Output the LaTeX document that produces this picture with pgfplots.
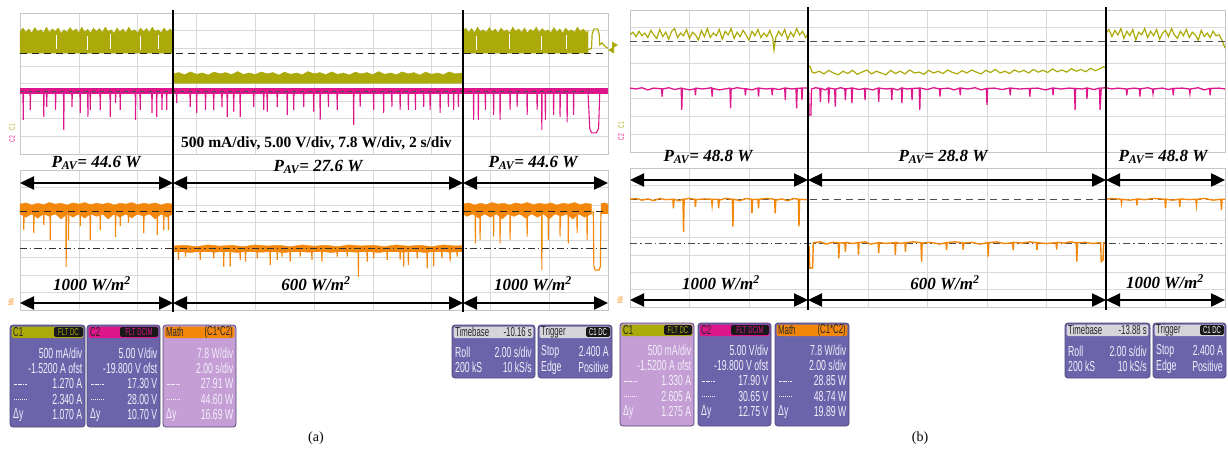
\documentclass[border=0pt]{standalone}
\usepackage{pgfplots}
\pgfplotsset{compat=1.18}
\usepackage{fontspec}
\setmainfont{Liberation Serif}
\newfontfamily\bxf[FakeStretch=0.6]{Liberation Sans}
\usetikzlibrary{arrows.meta}
\definecolor{cyel}{RGB}{172,170,10}
\definecolor{cmag}{RGB}{222,22,140}
\definecolor{corg}{RGB}{242,135,12}
\definecolor{bpur}{RGB}{108,100,170}
\definecolor{blil}{RGB}{196,158,212}
\definecolor{bgry}{RGB}{214,214,218}
\definecolor{btxt}{RGB}{242,238,250}
\definecolor{bedge}{RGB}{80,72,120}

\pgfplotsset{osc/.style={scale only axis, anchor=north west,
  xmin=0,xmax=10,ymin=0,ymax=8,
  xtick={0,1,...,10}, ytick={0,1,...,8},
  xticklabels={}, yticklabels={},
  major tick length=0pt, tick style={draw=none},
  grid=major, major grid style={draw=gray!30, line width=0.6pt},
  axis line style={draw=gray!45, line width=0.7pt}}}

\newcommand{\pav}[1]{{\fontsize{17}{20}\selectfont\bfseries\itshape P\textsubscript{AV}= #1 W}}
\newcommand{\irr}[1]{{\fontsize{17}{20}\selectfont\bfseries\itshape #1 W/m\textsuperscript{2}}}
\newcommand{\rwf}{\bxf\fontsize{14.5}{14.5}\selectfont}
\newcommand{\hdf}{\bxf\fontsize{13}{13}\selectfont}
\newcommand{\bdf}{\bxf\fontsize{10}{10}\selectfont}
\tikzset{dar/.style={line width=2.4pt, {Triangle[length=14pt,width=13pt]}-{Triangle[length=14pt,width=13pt]}},
  rt/.style={anchor=east, inner sep=0pt, font=\rwf, text=btxt},
  lt/.style={anchor=west, inner sep=0pt, font=\rwf, text=btxt}}

\newcommand{\hdrbox}[7]{%
  \filldraw[fill=#5, draw=bedge, line width=0.8pt, rounded corners=3pt] (#1,#3) rectangle (#2,#4);
  \fill[#6, rounded corners=2pt] ({#1+1.6},{#3+1.6}) rectangle ({#2-1.6},{#3+13});
  \node[anchor=west, inner sep=0pt, font=\hdf, text=black!85] at ({#1+3},{#3+7.3}) {#7};}
\newcommand{\badge}[5]{%
  \fill[black!90, rounded corners=1.5pt] (#1,{#3-4.8}) rectangle (#2,{#3+4.8});
  \node[inner sep=0pt, font=\bdf, text=#5] at ({(#1+#2)/2},#3) {#4};}
\newcommand{\fiverows}[8]{%
  \node[rt] at ({#2-2.5},#3) {#4};
  \node[rt] at ({#2-2.5},{#3+15.5}) {#5};
  \node[rt] at ({#2-2.5},{#3+31}) {#6};
  \node[rt] at ({#2-2.5},{#3+46.5}) {#7};
  \node[rt] at ({#2-2.5},{#3+62}) {#8};
  \draw[btxt, line width=0.9pt, dash pattern=on 2.5pt off 1pt on 0.8pt off 1pt] ({#1+4},{#3+31}) -- ({#1+17},{#3+31});
  \draw[btxt, line width=0.9pt, dash pattern=on 0.9pt off 1.1pt] ({#1+4},{#3+46.5}) -- ({#1+17},{#3+46.5});
  \node[lt] at ({#1+3},{#3+62}) {Δy};}

\begin{document}
\begin{tikzpicture}
\useasboundingbox (0,0) rectangle (1228pt,-463pt);

% ================= (a) upper =================
\begin{axis}[osc, at={(20pt,-13pt)}, width=588pt, height=141pt]
\addplot[fill=cyel, draw=cyel, line width=0.4pt] coordinates {(0,6.95) (0.05,7.15) (0.1,6.9) (0.15,7.1) (0.2,6.85) (0.25,7.18) (0.3,6.95) (0.35,7.05) (0.4,6.88) (0.45,7.2) (0.5,6.9) (0.55,7.1) (0.6,6.95) (0.65,7.15) (0.7,6.85) (0.75,7.05) (0.8,6.9) (0.85,7.18) (0.9,6.95) (0.95,7.1) (1.0,6.88) (1.05,7.2) (1.1,6.92) (1.15,7.08) (1.2,6.86) (1.25,7.15) (1.3,6.95) (1.35,7.12) (1.4,6.9) (1.45,7.2) (1.5,6.95) (1.55,7.05) (1.6,6.85) (1.65,7.15) (1.7,6.92) (1.75,7.1) (1.8,6.88) (1.85,7.2) (1.9,6.95) (1.95,7.05) (2.0,6.86) (2.05,7.15) (2.1,6.95) (2.15,7.12) (2.2,6.9) (2.25,7.2) (2.3,6.95) (2.35,7.05) (2.4,6.88) (2.45,7.15) (2.5,6.92) (2.55,7.1) (2.6,6.95) (2.6,5.72) (0,5.72)};
\addplot[fill=cyel, draw=cyel, line width=0.4pt] coordinates {(2.6,4.55) (2.7,4.62) (2.8,4.5) (2.9,4.66) (3.0,4.52) (3.1,4.6) (3.2,4.48) (3.3,4.65) (3.4,4.55) (3.5,4.62) (3.6,4.5) (3.7,4.68) (3.8,4.52) (3.9,4.6) (4.0,4.5) (4.1,4.66) (4.2,4.55) (4.3,4.62) (4.4,4.48) (4.5,4.65) (4.6,4.52) (4.7,4.6) (4.8,4.5) (4.9,4.68) (5.0,4.55) (5.1,4.62) (5.2,4.5) (5.3,4.66) (5.4,4.52) (5.5,4.6) (5.6,4.48) (5.7,4.65) (5.8,4.55) (5.9,4.62) (6.0,4.5) (6.1,4.68) (6.2,4.52) (6.3,4.6) (6.4,4.5) (6.5,4.66) (6.6,4.55) (6.7,4.62) (6.8,4.48) (6.9,4.65) (7.0,4.52) (7.1,4.6) (7.2,4.5) (7.3,4.66) (7.4,4.55) (7.53,4.6) (7.53,4.0) (2.6,4.0)};
\addplot[fill=cyel, draw=cyel, line width=0.4pt] coordinates {(7.53,6.95) (7.58,7.15) (7.63,6.9) (7.68,7.12) (7.73,6.88) (7.78,7.2) (7.83,6.95) (7.88,7.05) (7.93,6.9) (7.98,7.18) (8.03,6.92) (8.08,7.1) (8.13,6.86) (8.18,7.15) (8.23,6.95) (8.28,7.05) (8.33,6.88) (8.38,7.2) (8.43,6.95) (8.48,7.1) (8.53,6.9) (8.58,7.15) (8.63,6.86) (8.68,7.08) (8.73,6.95) (8.78,7.2) (8.83,6.9) (8.88,7.12) (8.93,6.95) (8.98,7.05) (9.03,6.88) (9.08,7.18) (9.13,6.92) (9.18,7.1) (9.23,6.86) (9.28,7.15) (9.33,6.95) (9.38,7.05) (9.43,6.9) (9.48,7.2) (9.53,6.95) (9.58,7.1) (9.63,6.9) (9.66,7.0) (9.66,5.72) (7.53,5.72)};
\addplot[white, line width=0.8pt, unbounded coords=jump] coordinates {(0.62,5.95) (0.62,6.75) (0.62,nan) (1.14,5.9) (1.14,6.7) (1.14,nan) (1.53,5.95) (1.53,6.8) (1.53,nan) (2.04,5.9) (2.04,6.7) (2.04,nan) (2.35,5.95) (2.35,6.75) (2.35,nan) (7.77,5.9) (7.77,6.7) (7.77,nan) (8.33,5.95) (8.33,6.8) (8.33,nan) (8.86,5.9) (8.86,6.7) (8.86,nan) (9.3,5.95) (9.3,6.75)};
\addplot[cyel, line width=1.2pt] coordinates {(9.66,5.9) (9.72,6.0) (9.73,6.8) (9.76,7.1) (9.82,7.1) (9.85,6.8) (9.86,6.2) (9.9,6.3) (9.95,6.1) (10,6.0)};
\addplot[cmag, line width=6pt] coordinates {(0,3.58) (10,3.58)};
\addplot[cmag, line width=1.1pt] coordinates {(0,3.5) (0.05,3.5) (0.055,1.93) (0.06,3.5) (0.17,3.5) (0.175,2.5) (0.18,3.5) (0.40,3.5) (0.405,2.1) (0.41,3.5) (0.45,3.5) (0.455,2.67) (0.46,3.5) (0.60,3.5) (0.605,2.5) (0.61,3.5) (0.74,3.5) (0.745,1.36) (0.75,3.5) (0.88,3.5) (0.885,2.67) (0.89,3.5) (1.02,3.5) (1.025,2.33) (1.03,3.5) (1.15,3.5) (1.155,2.1) (1.16,3.5) (1.19,3.5) (1.195,2.5) (1.2,3.5) (1.36,3.5) (1.365,2.5) (1.37,3.5) (1.53,3.5) (1.535,2.1) (1.54,3.5) (1.62,3.5) (1.625,2.9) (1.63,3.5) (1.70,3.5) (1.705,2.5) (1.71,3.5) (1.96,3.5) (1.965,1.93) (1.97,3.5) (2.04,3.5) (2.045,2.5) (2.05,3.5) (2.24,3.5) (2.245,2.33) (2.25,3.5) (2.32,3.5) (2.325,2.1) (2.33,3.5) (2.41,3.5) (2.415,2.5) (2.42,3.5) (2.49,3.5) (2.495,2.5) (2.5,3.5) (2.66,3.5) (2.665,2.9) (2.67,3.5) (2.89,3.5) (2.895,2.67) (2.9,3.5) (3.0,3.5) (3.005,2.33) (3.01,3.5) (3.15,3.5) (3.155,2.5) (3.16,3.5) (3.29,3.5) (3.295,2.5) (3.3,3.5) (3.43,3.5) (3.435,2.67) (3.44,3.5) (3.52,3.5) (3.525,2.1) (3.53,3.5) (3.63,3.5) (3.635,2.4) (3.64,3.5) (3.74,3.5) (3.745,2.1) (3.75,3.5) (3.97,3.5) (3.975,2.67) (3.98,3.5) (4.14,3.5) (4.145,2.5) (4.15,3.5) (4.2,3.5) (4.205,2.4) (4.21,3.5) (4.37,3.5) (4.375,2.67) (4.38,3.5) (4.54,3.5) (4.545,2.2) (4.55,3.5) (4.65,3.5) (4.655,2.5) (4.66,3.5) (4.82,3.5) (4.825,2.67) (4.83,3.5) (4.99,3.5) (4.995,2.4) (5.0,3.5) (5.1,3.5) (5.105,1.93) (5.11,3.5) (5.24,3.5) (5.245,2.67) (5.25,3.5) (5.39,3.5) (5.395,2.5) (5.4,3.5) (5.67,3.5) (5.675,1.65) (5.68,3.5) (5.78,3.5) (5.785,2.67) (5.79,3.5) (6.01,3.5) (6.015,2.5) (6.02,3.5) (6.18,3.5) (6.185,2.33) (6.19,3.5) (6.32,3.5) (6.325,2.67) (6.33,3.5) (6.46,3.5) (6.465,2.5) (6.47,3.5) (6.6,3.5) (6.605,2.5) (6.61,3.5) (6.72,3.5) (6.725,2.5) (6.73,3.5) (6.86,3.5) (6.865,2.67) (6.87,3.5) (6.97,3.5) (6.975,2.5) (6.98,3.5) (7.14,3.5) (7.145,2.33) (7.15,3.5) (7.28,3.5) (7.285,2.67) (7.29,3.5) (7.37,3.5) (7.375,2.5) (7.38,3.5) (7.45,3.5) (7.455,2.67) (7.46,3.5) (7.71,3.5) (7.715,1.93) (7.72,3.5) (7.79,3.5) (7.795,1.93) (7.8,3.5) (7.91,3.5) (7.915,2.5) (7.92,3.5) (8.05,3.5) (8.055,2.2) (8.06,3.5) (8.16,3.5) (8.165,1.93) (8.17,3.5) (8.33,3.5) (8.335,2.5) (8.34,3.5) (8.45,3.5) (8.455,2.67) (8.46,3.5) (8.62,3.5) (8.625,2.2) (8.63,3.5) (8.79,3.5) (8.795,2.5) (8.8,3.5) (8.87,3.5) (8.875,1.36) (8.88,3.5) (8.93,3.5) (8.935,1.93) (8.94,3.5) (9.07,3.5) (9.075,2.2) (9.08,3.5) (9.18,3.5) (9.185,2.1) (9.19,3.5) (9.3,3.5) (9.305,1.8) (9.31,3.5) (9.41,3.5) (9.415,2.2) (9.42,3.5) (9.66,3.5) (9.69,1.45) (9.72,1.2) (9.8,1.2) (9.84,1.45) (9.86,3.5) (10,3.5)};
\addplot[black!85, line width=1.1pt, dash pattern=on 7pt off 5pt] coordinates {(0,5.68) (10,5.68)};
\addplot[black!70, line width=0.7pt, dash pattern=on 4pt off 4pt] coordinates {(0,3.58) (9.7,3.58)};
\end{axis}

% ================= (a) lower =================
\begin{axis}[osc, at={(20pt,-170pt)}, width=588pt, height=140pt]
\addplot[fill=corg, draw=corg, line width=0.4pt] coordinates {(0,6.05) (0.1,6.12) (0.2,6.0) (0.3,6.1) (0.4,6.02) (0.5,6.14) (0.6,6.05) (0.7,6.1) (0.8,6.0) (0.9,6.12) (1.0,6.05) (1.1,6.14) (1.2,6.02) (1.3,6.1) (1.4,6.04) (1.5,6.12) (1.6,6.0) (1.7,6.1) (1.8,6.05) (1.9,6.14) (2.0,6.02) (2.1,6.1) (2.2,6.05) (2.3,6.12) (2.4,6.0) (2.5,6.1) (2.6,6.05) (2.6,5.5) (2.5,5.3) (2.4,5.5) (2.3,5.2) (2.2,5.5) (2.1,5.35) (2.0,5.5) (1.9,5.25) (1.8,5.5) (1.7,5.3) (1.6,5.5) (1.5,5.2) (1.4,5.5) (1.3,5.35) (1.2,5.5) (1.1,5.25) (1.0,5.5) (0.9,5.3) (0.8,5.5) (0.7,5.2) (0.6,5.5) (0.5,5.35) (0.4,5.5) (0.3,5.25) (0.2,5.5) (0.1,5.3) (0,5.5)};
\addplot[fill=corg, draw=corg, line width=0.4pt] coordinates {(2.6,3.66) (2.8,3.7) (3.0,3.62) (3.2,3.72) (3.4,3.65) (3.6,3.7) (3.8,3.62) (4.0,3.72) (4.2,3.66) (4.4,3.7) (4.6,3.62) (4.8,3.72) (5.0,3.65) (5.2,3.7) (5.4,3.62) (5.6,3.72) (5.8,3.66) (6.0,3.7) (6.2,3.62) (6.4,3.72) (6.6,3.65) (6.8,3.7) (7.0,3.62) (7.2,3.72) (7.4,3.66) (7.53,3.68) (7.53,3.35) (7.3,3.3) (7.1,3.38) (6.9,3.28) (6.7,3.36) (6.5,3.3) (6.3,3.38) (6.1,3.28) (5.9,3.35) (5.7,3.3) (5.5,3.38) (5.3,3.28) (5.1,3.36) (4.9,3.3) (4.7,3.38) (4.5,3.28) (4.3,3.35) (4.1,3.3) (3.9,3.38) (3.7,3.28) (3.5,3.36) (3.3,3.3) (3.1,3.38) (2.9,3.28) (2.7,3.35) (2.6,3.32)};
\addplot[fill=corg, draw=corg, line width=0.4pt] coordinates {(7.53,6.05) (7.63,6.12) (7.73,6.0) (7.83,6.1) (7.93,6.02) (8.03,6.14) (8.13,6.05) (8.23,6.1) (8.33,6.0) (8.43,6.12) (8.53,6.05) (8.63,6.14) (8.73,6.02) (8.83,6.1) (8.93,6.04) (9.03,6.12) (9.13,6.0) (9.23,6.1) (9.33,6.05) (9.43,6.14) (9.53,6.02) (9.63,6.1) (9.72,6.05) (9.72,5.5) (9.6,5.3) (9.5,5.5) (9.4,5.2) (9.3,5.5) (9.2,5.35) (9.1,5.5) (9.0,5.2) (8.9,5.5) (8.8,5.3) (8.7,5.5) (8.6,5.25) (8.5,5.5) (8.4,5.35) (8.3,5.5) (8.2,5.2) (8.1,5.5) (8.0,5.3) (7.9,5.5) (7.8,5.25) (7.7,5.5) (7.6,5.35) (7.53,5.5)};
\addplot[fill=corg, draw=corg, line width=0.4pt] coordinates {(9.88,6.08) (9.94,6.12) (10,6.05) (10,5.5) (9.88,5.5)};
\addplot[corg, line width=1.2pt] coordinates {(9.72,5.6) (9.75,5.6) (9.76,2.5) (9.78,2.29) (9.85,2.29) (9.87,2.5) (9.88,5.6)};
\addplot[corg, line width=1.1pt] coordinates {(0,5.5) (0.06,5.5) (0.065,4.57) (0.07,5.5) (0.23,5.5) (0.235,4.4) (0.24,5.5) (0.40,5.5) (0.405,4.86) (0.41,5.5) (0.51,5.5) (0.515,4.0) (0.52,5.5) (0.78,5.5) (0.785,2.46) (0.79,5.5) (0.82,5.5) (0.825,4.0) (0.83,5.5) (1.02,5.5) (1.025,4.8) (1.03,5.5) (1.19,5.5) (1.195,4.0) (1.2,5.5) (1.36,5.5) (1.365,4.57) (1.37,5.5) (1.62,5.5) (1.625,4.17) (1.63,5.5) (1.70,5.5) (1.705,4.8) (1.71,5.5) (1.84,5.5) (1.845,5.0) (1.85,5.5) (2.1,5.5) (2.105,4.4) (2.11,5.5) (2.33,5.5) (2.335,4.3) (2.34,5.5) (2.44,5.5) (2.445,4.57) (2.45,5.5) (2.52,5.5) (2.525,4.57) (2.53,5.5) (2.6,5.5) (2.6,3.35) (2.69,3.35) (2.695,2.86) (2.7,3.35) (2.81,3.35) (2.815,3.05) (2.82,3.35) (3.06,3.35) (3.065,2.86) (3.07,3.35) (3.29,3.35) (3.295,2.95) (3.3,3.35) (3.46,3.35) (3.465,2.48) (3.47,3.35) (3.57,3.35) (3.575,2.48) (3.58,3.35) (3.74,3.35) (3.745,2.86) (3.75,3.35) (3.83,3.35) (3.835,2.76) (3.84,3.35) (4.03,3.35) (4.035,2.95) (4.04,3.35) (4.25,3.35) (4.255,2.57) (4.26,3.35) (4.37,3.35) (4.375,2.86) (4.38,3.35) (4.45,3.35) (4.455,3.05) (4.46,3.35) (4.59,3.35) (4.595,2.76) (4.6,3.35) (4.76,3.35) (4.765,3.05) (4.77,3.35) (4.96,3.35) (4.965,2.86) (4.97,3.35) (5.13,3.35) (5.135,2.76) (5.14,3.35) (5.39,3.35) (5.395,3.05) (5.4,3.35) (5.56,3.35) (5.565,3.05) (5.57,3.35) (5.75,3.35) (5.755,1.9) (5.76,3.35) (5.9,3.35) (5.905,2.76) (5.91,3.35) (6.01,3.35) (6.015,2.95) (6.02,3.35) (6.24,3.35) (6.245,2.86) (6.25,3.35) (6.46,3.35) (6.465,2.86) (6.47,3.35) (6.52,3.35) (6.525,2.48) (6.53,3.35) (6.6,3.35) (6.605,2.57) (6.61,3.35) (6.75,3.35) (6.755,2.95) (6.76,3.35) (6.92,3.35) (6.925,2.38) (6.93,3.35) (7.03,3.35) (7.035,2.48) (7.04,3.35) (7.17,3.35) (7.175,2.95) (7.18,3.35) (7.31,3.35) (7.315,2.76) (7.32,3.35) (7.43,3.35) (7.435,3.05) (7.44,3.35) (7.53,3.35) (7.53,5.5) (7.74,5.5) (7.745,3.81) (7.75,5.5) (7.82,5.5) (7.825,4.0) (7.83,5.5) (8.05,5.5) (8.055,4.19) (8.06,5.5) (8.16,5.5) (8.165,3.81) (8.17,5.5) (8.33,5.5) (8.335,4.0) (8.34,5.5) (8.62,5.5) (8.625,4.19) (8.63,5.5) (8.87,5.5) (8.875,2.29) (8.88,5.5) (8.98,5.5) (8.985,4.0) (8.99,5.5) (9.18,5.5) (9.185,4.19) (9.19,5.5) (9.32,5.5) (9.325,3.81) (9.33,5.5) (9.47,5.5) (9.475,4.4) (9.48,5.5) (9.64,5.5) (9.645,4.0) (9.65,5.5) (9.72,5.5)};
\addplot[black!85, line width=1.1pt, dash pattern=on 7pt off 5pt] coordinates {(0,5.63) (10,5.63)};
\addplot[black!80, line width=0.9pt, dash pattern=on 7pt off 3pt on 1.5pt off 3pt] coordinates {(0,3.49) (10,3.49)};
\end{axis}

% ================= (b) upper =================
\begin{axis}[osc, at={(630pt,-10pt)}, width=595pt, height=142pt]
\addplot[cyel, line width=1.2pt] coordinates {(0,6.6) (0.05,6.75) (0.1,6.5) (0.15,6.8) (0.2,6.55) (0.25,6.7) (0.3,6.45) (0.35,6.85) (0.4,6.6) (0.45,6.4) (0.5,6.9) (0.55,6.5) (0.6,6.75) (0.65,6.35) (0.7,6.8) (0.75,6.95) (0.8,6.45) (0.85,6.7) (0.9,6.55) (0.95,6.9) (1.0,6.4) (1.05,6.75) (1.1,6.6) (1.15,6.3) (1.2,6.85) (1.25,6.5) (1.3,6.95) (1.35,6.45) (1.4,6.7) (1.45,6.55) (1.5,6.9) (1.55,6.35) (1.6,6.8) (1.65,6.6) (1.7,6.95) (1.75,6.4) (1.8,6.75) (1.85,6.5) (1.9,6.85) (1.95,6.6) (2.0,6.3) (2.05,6.8) (2.1,6.55) (2.15,6.9) (2.2,6.45) (2.25,6.7) (2.3,6.5) (2.35,6.85) (2.4,6.4) (2.42,5.75) (2.45,6.45) (2.5,6.8) (2.55,6.55) (2.6,6.9) (2.65,6.35) (2.7,6.75) (2.75,6.5) (2.8,6.95) (2.85,6.6) (2.9,6.8) (2.95,6.45) (3.0,6.7)};
\addplot[cyel, line width=1.2pt] coordinates {(3.0,4.85) (3.03,4.8) (3.06,4.5) (3.1,4.45) (3.18,4.55) (3.26,4.4) (3.34,4.6) (3.42,4.45) (3.5,4.35) (3.58,4.55) (3.66,4.42) (3.74,4.6) (3.82,4.38) (3.9,4.5) (3.98,4.62) (4.06,4.4) (4.14,4.55) (4.22,4.45) (4.3,4.35) (4.38,4.6) (4.46,4.42) (4.54,4.55) (4.62,4.4) (4.7,4.62) (4.78,4.45) (4.86,4.5) (4.94,4.38) (5.02,4.6) (5.1,4.45) (5.18,4.55) (5.26,4.42) (5.34,4.62) (5.42,4.48) (5.5,4.4) (5.58,4.58) (5.66,4.45) (5.74,4.62) (5.82,4.5) (5.9,4.4) (5.98,4.6) (6.06,4.48) (6.14,4.65) (6.22,4.45) (6.3,4.55) (6.38,4.42) (6.46,4.62) (6.54,4.5) (6.62,4.6) (6.7,4.45) (6.78,4.65) (6.86,4.5) (6.94,4.6) (7.02,4.48) (7.1,4.68) (7.18,4.52) (7.26,4.62) (7.34,4.5) (7.42,4.7) (7.5,4.55) (7.58,4.65) (7.66,4.52) (7.74,4.72) (7.82,4.58) (7.9,4.7) (7.96,4.8) (8.0,4.75)};
\addplot[cyel, line width=1.2pt] coordinates {(8.0,6.7) (8.05,6.9) (8.1,6.5) (8.15,6.85) (8.2,6.6) (8.25,6.95) (8.3,6.4) (8.35,6.8) (8.4,6.55) (8.45,6.9) (8.5,6.3) (8.55,6.75) (8.6,6.6) (8.65,6.95) (8.7,6.45) (8.75,6.8) (8.8,6.55) (8.85,6.9) (8.9,6.35) (8.95,6.7) (9.0,6.85) (9.05,6.5) (9.1,6.95) (9.15,6.6) (9.2,6.4) (9.25,6.8) (9.3,6.55) (9.35,6.9) (9.4,6.45) (9.45,6.75) (9.5,6.6) (9.55,6.3) (9.6,6.85) (9.65,6.5) (9.7,6.7) (9.75,6.45) (9.8,6.8) (9.85,6.55) (9.9,6.6) (9.95,6.3) (10,5.85)};
\addplot[cmag, line width=1.3pt] coordinates {(0,3.6) (0.1,3.55) (0.2,3.62) (0.3,3.5) (0.4,3.6) (0.53,3.56) (0.54,3.12) (0.55,3.55) (0.65,3.62) (0.75,3.52) (0.86,3.6) (0.87,2.37) (0.88,3.58) (1.0,3.5) (1.09,3.56) (1.1,3.2) (1.11,3.6) (1.22,3.55) (1.37,3.62) (1.38,3.12) (1.39,3.58) (1.5,3.5) (1.68,3.6) (1.69,2.46) (1.7,3.55) (1.8,3.62) (1.93,3.56) (1.94,3.2) (1.95,3.56) (2.05,3.5) (2.15,3.6) (2.16,3.12) (2.17,3.6) (2.28,3.55) (2.38,3.58) (2.39,3.2) (2.4,3.58) (2.5,3.52) (2.6,3.6) (2.61,2.93) (2.62,3.6) (2.72,3.55) (2.79,3.58) (2.8,2.46) (2.81,3.58) (2.88,3.6) (2.89,2.93) (2.9,3.6) (3.0,3.6) (3.01,2.08) (3.04,2.08) (3.05,3.55) (3.12,3.62) (3.19,3.58) (3.2,2.83) (3.21,3.58) (3.28,3.5) (3.33,3.6) (3.34,2.75) (3.35,3.6) (3.44,3.55) (3.45,2.56) (3.46,3.55) (3.54,3.62) (3.61,3.56) (3.62,2.93) (3.63,3.56) (3.72,3.6) (3.73,2.75) (3.74,3.6) (3.85,3.52) (3.94,3.58) (3.95,2.93) (3.96,3.58) (4.08,3.5) (4.17,3.6) (4.18,2.83) (4.19,3.6) (4.3,3.55) (4.39,3.58) (4.4,2.93) (4.41,3.58) (4.5,3.5) (4.56,3.6) (4.57,2.75) (4.58,3.6) (4.66,3.55) (4.73,3.58) (4.74,2.93) (4.75,3.58) (4.86,3.6) (4.87,2.37) (4.88,3.6) (5.0,3.52) (5.1,3.62) (5.2,3.56) (5.21,3.12) (5.22,3.56) (5.35,3.6) (5.45,3.5) (5.54,3.6) (5.55,3.2) (5.56,3.6) (5.68,3.55) (5.8,3.62) (5.9,3.5) (5.99,3.58) (6.0,2.65) (6.01,3.58) (6.12,3.6) (6.25,3.52) (6.38,3.6) (6.39,3.2) (6.4,3.6) (6.55,3.55) (6.71,3.58) (6.72,3.12) (6.73,3.58) (6.85,3.6) (6.98,3.5) (7.1,3.6) (7.11,3.2) (7.12,3.6) (7.25,3.55) (7.38,3.6) (7.47,3.58) (7.48,2.37) (7.49,3.58) (7.6,3.55) (7.67,3.6) (7.68,3.0) (7.69,3.6) (7.8,3.52) (7.89,3.6) (7.9,2.37) (7.92,3.6) (8.0,3.62) (8.1,3.55) (8.2,3.6) (8.34,3.55) (8.35,3.2) (8.36,3.55) (8.47,3.6) (8.56,3.56) (8.57,3.12) (8.58,3.56) (8.7,3.62) (8.78,3.55) (8.79,3.3) (8.8,3.55) (8.95,3.6) (9.05,3.52) (9.12,3.58) (9.13,3.2) (9.14,3.58) (9.28,3.6) (9.4,3.55) (9.41,3.3) (9.42,3.55) (9.55,3.62) (9.65,3.5) (9.74,3.58) (9.75,3.2) (9.76,3.58) (9.9,3.6) (10,3.55)};
\addplot[black!70, line width=1pt, dash pattern=on 7pt off 5pt] coordinates {(0,6.2) (10,6.2)};
\end{axis}

% ================= (b) lower =================
\begin{axis}[osc, at={(630pt,-168pt)}, width=595pt, height=139pt]
\addplot[black!70, line width=1pt, dash pattern=on 7pt off 5pt] coordinates {(0,6.2) (10,6.2)};
\addplot[black!70, line width=0.9pt, dash pattern=on 7pt off 3pt on 1.5pt off 3pt] coordinates {(0,3.63) (10,3.63)};
\addplot[corg, line width=1.4pt] coordinates {(0,6.2) (0.1,6.25) (0.2,6.15) (0.3,6.22) (0.4,6.12) (0.5,6.25) (0.6,6.18) (0.72,6.2) (0.73,5.68) (0.74,6.2) (0.82,6.12) (0.89,6.2) (0.9,4.33) (0.91,6.2) (1.0,6.25) (1.09,6.2) (1.1,5.77) (1.11,6.18) (1.25,6.22) (1.37,6.2) (1.38,5.86) (1.39,6.2) (1.48,6.2) (1.49,5.68) (1.5,6.15) (1.6,6.25) (1.72,6.2) (1.73,4.62) (1.74,6.2) (1.85,6.12) (1.95,6.25) (2.04,6.2) (2.05,5.39) (2.06,6.18) (2.15,6.2) (2.16,5.68) (2.17,6.2) (2.3,6.25) (2.43,6.2) (2.44,5.39) (2.45,6.15) (2.55,6.22) (2.65,6.12) (2.75,6.25) (2.83,6.2) (2.84,4.62) (2.85,6.2) (2.95,6.18) (3.0,6.2)};
\addplot[corg, line width=1.4pt] coordinates {(3.01,3.5) (3.02,2.23) (3.07,2.25) (3.08,3.7) (3.2,3.75) (3.3,3.62) (3.4,3.72) (3.5,3.7) (3.51,2.8) (3.52,3.68) (3.61,3.7) (3.62,3.18) (3.63,3.72) (3.74,3.65) (3.83,3.7) (3.84,3.0) (3.85,3.7) (3.95,3.75) (4.05,3.62) (4.17,3.7) (4.18,3.09) (4.19,3.7) (4.3,3.66) (4.45,3.7) (4.46,3.0) (4.47,3.72) (4.55,3.65) (4.62,3.7) (4.63,3.18) (4.64,3.7) (4.75,3.75) (4.89,3.7) (4.9,2.61) (4.91,3.68) (5.05,3.72) (5.2,3.62) (5.31,3.7) (5.32,3.28) (5.33,3.7) (5.45,3.75) (5.59,3.7) (5.6,3.3) (5.61,3.68) (5.75,3.72) (5.88,3.62) (6.01,3.7) (6.02,2.9) (6.03,3.7) (6.15,3.75) (6.3,3.65) (6.43,3.7) (6.44,3.28) (6.45,3.72) (6.6,3.68) (6.72,3.75) (6.83,3.7) (6.84,3.28) (6.85,3.7) (7.0,3.65) (7.16,3.7) (7.17,3.3) (7.18,3.72) (7.3,3.68) (7.4,3.75) (7.5,3.7) (7.51,2.61) (7.52,3.7) (7.65,3.72) (7.78,3.65) (7.88,3.7) (7.91,3.7) (7.92,2.61) (7.95,2.7) (7.96,3.7) (8.0,3.72)};
\addplot[corg, line width=1.4pt] coordinates {(8.0,6.2) (8.1,6.25) (8.25,6.2) (8.26,5.97) (8.27,6.2) (8.4,6.15) (8.51,6.2) (8.52,5.86) (8.53,6.22) (8.65,6.18) (8.8,6.25) (8.99,6.2) (9.0,5.68) (9.01,6.2) (9.12,6.15) (9.23,6.2) (9.24,5.77) (9.25,6.22) (9.4,6.18) (9.51,6.2) (9.52,5.86) (9.53,6.2) (9.65,6.25) (9.8,6.15) (9.93,6.2) (9.94,5.58) (9.95,6.2) (10,6.2)};
\end{axis}

% ================= overlay =================
\begin{scope}[x=1pt,y=-1pt]
\draw[black, line width=2pt] (173,10) -- (173,312);
\draw[black, line width=2pt] (463,10) -- (463,312);
\draw[black, line width=2pt] (808,7) -- (808,310);
\draw[black, line width=2pt] (1106,7) -- (1106,310);
\draw[dar] (20,183) -- (173,183);
\draw[dar] (173,183) -- (463,183);
\draw[dar] (463,183) -- (608,183);
\draw[dar] (20,303) -- (173,303);
\draw[dar] (173,303) -- (463,303);
\draw[dar] (463,303) -- (608,303);
\draw[dar] (630,180) -- (808,180);
\draw[dar] (808,180) -- (1106,180);
\draw[dar] (1106,180) -- (1225,180);
\draw[dar] (630,300) -- (808,300);
\draw[dar] (808,300) -- (1106,300);
\draw[dar] (1106,300) -- (1225,300);
\node at (96,163) {\pav{44.6}};
\node at (318,167) {\pav{27.6}};
\node at (533,163) {\pav{44.6}};
\node at (92,284) {\irr{1000}};
\node at (316,284) {\irr{600}};
\node at (533,284) {\irr{1000}};
\node at (708,157) {\pav{48.8}};
\node at (943,157) {\pav{28.8}};
\node at (1163,157) {\pav{48.8}};
\node at (721,283) {\irr{1000}};
\node at (945,283) {\irr{600}};
\node at (1165,282) {\irr{1000}};
\node[anchor=west, inner sep=0pt, font=\fontsize{15.5}{18}\selectfont\bfseries] at (181,143) {500 mA/div, 5.00 V/div, 7.8 W/div, 2 s/div};
\fill[cyel] (608,50) -- (614,46.5) -- (614,53.5) -- cycle;
\fill[cyel] (618,45) -- (612,41.5) -- (612,48.5) -- cycle;
\node[rotate=90, inner sep=0pt, font=\bxf\fontsize{8}{8}\selectfont, text=cyel] at (12,127) {C1};
\node[rotate=90, inner sep=0pt, font=\bxf\fontsize{8}{8}\selectfont, text=cmag] at (12,139) {C2};
\node[rotate=90, inner sep=0pt, font=\bxf\fontsize{8}{8}\selectfont, text=corg] at (11,302) {Ma};
\node[rotate=90, inner sep=0pt, font=\bxf\fontsize{8}{8}\selectfont, text=cyel] at (621,125) {C1};
\node[rotate=90, inner sep=0pt, font=\bxf\fontsize{8}{8}\selectfont, text=cmag] at (621,137) {C2};
\node[rotate=90, inner sep=0pt, font=\bxf\fontsize{8}{8}\selectfont, text=corg] at (620,300) {Ma};

\hdrbox{10}{85}{325}{427}{bpur}{cyel}{C1}
\badge{54}{83}{332}{FLT\,DC}{cyel}
\fiverows{10}{85}{353}{500 mA/div}{-1.5200 A ofst}{1.270 A}{2.340 A}{1.070 A}
\hdrbox{87}{160}{325}{427}{bpur}{cmag}{C2}
\badge{120}{158}{332}{FLT\,DCIM}{cmag}
\fiverows{87}{160}{353}{5.00 V/div}{-19.800 V ofst}{17.30 V}{28.00 V}{10.70 V}
\hdrbox{163}{236}{325}{427}{blil}{corg}{Math}
\node[anchor=east, inner sep=0pt, font=\hdf, text=black!85] at (233,332.3) {(C1*C2)};
\fiverows{163}{236}{353}{7.8 W/div}{2.00 s/div}{27.91 W}{44.60 W}{16.69 W}
\hdrbox{452}{535}{325}{378}{bpur}{bgry}{Timebase}
\node[anchor=east, inner sep=0pt, font=\hdf, text=black!85] at (532,332.3) {-10.16 s};
\node[lt] at (455,352) {Roll}; \node[rt] at (532,352) {2.00 s/div};
\node[lt] at (455,367.5) {200 kS}; \node[rt] at (532,367.5) {10 kS/s};
\hdrbox{538}{612}{325}{378}{bpur}{bgry}{Trigger}
\badge{586}{610}{332}{C1\,DC}{white}
\node[lt] at (541,352) {Stop}; \node[rt] at (609,352) {2.400 A};
\node[lt] at (541,367.5) {Edge}; \node[rt] at (609,367.5) {Positive};

\hdrbox{620}{694}{323}{426}{blil}{cyel}{C1}
\badge{664}{692}{330}{FLT\,DC}{cyel}
\fiverows{620}{694}{350}{500 mA/div}{-1.5200 A ofst}{1.330 A}{2.605 A}{1.275 A}
\hdrbox{698}{771}{323}{426}{bpur}{cmag}{C2}
\badge{731}{769}{330}{FLT\,DCIM}{cmag}
\fiverows{698}{771}{350}{5.00 V/div}{-19.800 V ofst}{17.90 V}{30.65 V}{12.75 V}
\hdrbox{775}{849}{323}{426}{bpur}{corg}{Math}
\node[anchor=east, inner sep=0pt, font=\hdf, text=black!85] at (846,330.3) {(C1*C2)};
\fiverows{775}{849}{350}{7.8 W/div}{2.00 s/div}{28.85 W}{48.74 W}{19.89 W}
\hdrbox{1065}{1150}{323}{378}{bpur}{bgry}{Timebase}
\node[anchor=east, inner sep=0pt, font=\hdf, text=black!85] at (1147,330.3) {-13.88 s};
\node[lt] at (1068,351) {Roll}; \node[rt] at (1147,351) {2.00 s/div};
\node[lt] at (1068,366.5) {200 kS}; \node[rt] at (1147,366.5) {10 kS/s};
\hdrbox{1153}{1226}{323}{378}{bpur}{bgry}{Trigger}
\badge{1200}{1224}{330}{C1\,DC}{white}
\node[lt] at (1156,351) {Stop}; \node[rt] at (1223,351) {2.400 A};
\node[lt] at (1156,366.5) {Edge}; \node[rt] at (1223,366.5) {Positive};

\node[font=\fontsize{14}{16}\selectfont] at (316,438) {(a)};
\node[font=\fontsize{14}{16}\selectfont] at (920,438) {(b)};
\end{scope}
\end{tikzpicture}
\end{document}
